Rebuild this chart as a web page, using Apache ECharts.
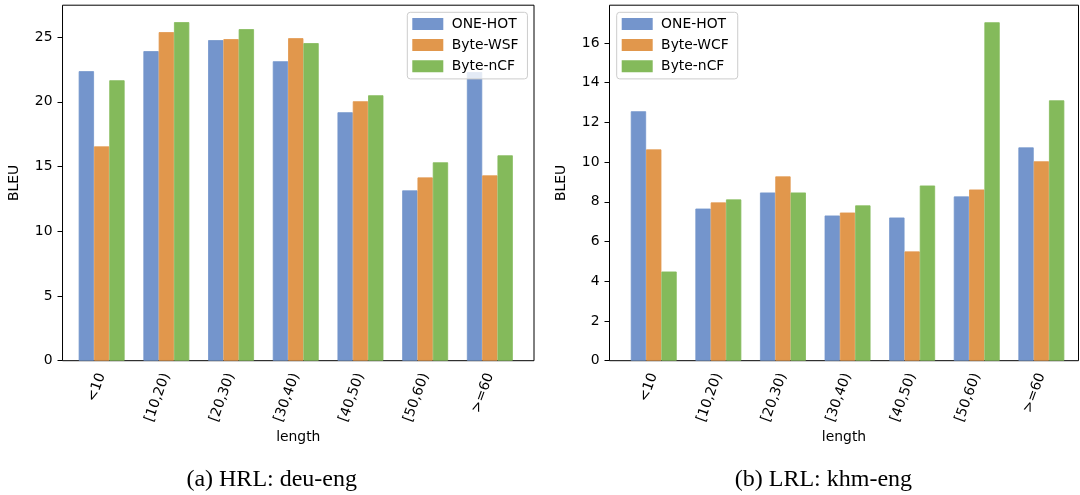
<!DOCTYPE html>
<html>
<head>
    <title>BLEU by length</title>
    <script src="https://cdn.jsdelivr.net/npm/echarts@6/dist/echarts.min.js"></script>
</head>
<body style="margin:0">
    <div id="chart" style="width:1080px;height:495px"></div>

    <script>
        const lengths = ['<10', '[10,20)', '[20,30)', '[30,40)', '[40,50)', '[50,60)', '>=60']

        // (a) HRL: deu-eng
        const hrlOneHot = [22.37, 23.92, 24.77, 23.14, 19.20, 13.16, 22.30]
        const hrlWSF    = [16.56, 25.39, 24.85, 24.92, 20.05, 14.16, 14.32]
        const hrlNCF    = [21.67, 26.16, 25.62, 24.54, 20.51, 15.33, 15.87]

        // (b) LRL: khm-eng
        const lrlOneHot = [12.56, 7.66, 8.47, 7.31, 7.21, 8.27, 10.74]
        const lrlWCF    = [10.64, 7.97, 9.28, 7.46, 5.50, 8.62, 10.04]
        const lrlNCF    = [4.49, 8.12, 8.47, 7.82, 8.82, 17.04, 13.11]

        const blue = '#7495cc', orange = '#e1974c', green = '#84ba5b'
        const font = 'DejaVu Sans'
        const fs = 13.9
        const barW = 15.3

        const plotTop = 5.2, plotHeight = 355.5
        // frame grid, tick grid, and bar grid (bars sit half a bar right of the tick, as in the original)
        const panels = [
            { frameLeft: 57.4, frameWidth: 476.6, tickLeft: 61.65, bandWidth: 452.9, max: 27.47, interval: 5 },
            { frameLeft: 609.5, frameWidth: 469, tickLeft: 613.8, bandWidth: 452.2, max: 17.9, interval: 2 }
        ]

        const grid = [], xAxis = [], yAxis = []
        panels.forEach(p => {
            grid.push({ left: p.frameLeft, top: plotTop, width: p.frameWidth, height: plotHeight, show: true, borderColor: '#000', borderWidth: 1 })
            grid.push({ left: p.tickLeft, top: plotTop, width: p.bandWidth, height: plotHeight })
            grid.push({ left: p.tickLeft + barW / 2, top: plotTop, width: p.bandWidth, height: plotHeight })
            const g = grid.length - 3
            xAxis.push({
                gridIndex: g, type: 'value', min: 0, max: 1,
                name: 'length', nameLocation: 'middle', nameGap: 63,
                nameTextStyle: { fontFamily: font, fontSize: fs, color: '#000' },
                axisLine: { show: false }, axisTick: { show: false }, axisLabel: { show: false }, splitLine: { show: false }
            })
            yAxis.push({
                gridIndex: g, type: 'value', min: 0, max: p.max, interval: p.interval,
                name: 'BLEU', nameLocation: 'middle', nameGap: 34,
                nameTextStyle: { fontFamily: font, fontSize: fs, color: '#000' },
                axisLine: { show: false },
                axisTick: { show: true, length: 5, lineStyle: { color: '#000', width: 1 } },
                axisLabel: { fontFamily: font, fontSize: fs, color: '#000', margin: 10, showMaxLabel: false },
                splitLine: { show: false }
            })
            xAxis.push({
                gridIndex: g + 1, type: 'category', data: lengths,
                axisLine: { show: false },
                axisTick: { alignWithLabel: true, length: 5, lineStyle: { color: '#000', width: 1 } },
                axisLabel: { show: false }
            })
            yAxis.push({ gridIndex: g + 1, type: 'value', min: 0, max: 1, show: false })
            xAxis.push({
                gridIndex: g + 2, type: 'category', data: lengths,
                axisLine: { show: false }, axisTick: { show: false },
                axisLabel: { rotate: 70, margin: 13, fontFamily: font, fontSize: fs, color: '#000', interval: 0 }
            })
            yAxis.push({ gridIndex: g + 2, type: 'value', min: 0, max: p.max, show: false })
        })

        const bar = (name, data, color, idx) => ({
            name, type: 'bar', data, xAxisIndex: idx, yAxisIndex: idx,
            barWidth: barW, barGap: '0%', itemStyle: { color, borderColor: color, borderWidth: 0.8 }
        })

        const legend = (left, names) => ({
            left, top: 12.3, orient: 'vertical', icon: 'rect',
            itemWidth: 29, itemHeight: 10, itemGap: -6.5,
            padding: [-2, 9, -1, 5],
            backgroundColor: 'rgba(255,255,255,0.8)', borderColor: '#cccccc', borderWidth: 1, borderRadius: 3,
            formatter: name => ' ' + name,
            textStyle: { fontFamily: font, fontSize: fs, color: '#000' },
            data: names
        })

        const chart = echarts.init(document.getElementById('chart'))
        chart.setOption({
            animation: false,
            title: [
                { text: '(a) HRL: deu-eng', left: 271.7, top: 461, textAlign: 'center', padding: 0,
                  textStyle: { fontFamily: 'Liberation Serif', fontSize: 24, fontWeight: 'normal', color: '#000' } },
                { text: '(b) LRL: khm-eng', left: 823.4, top: 461, textAlign: 'center', padding: 0,
                  textStyle: { fontFamily: 'Liberation Serif', fontSize: 24, fontWeight: 'normal', color: '#000' } }
            ],
            legend: [
                legend(407.3, ['ONE-HOT', 'Byte-WSF', 'Byte-nCF']),
                legend(616.7, ['ONE-HOT', 'Byte-WCF', 'Byte-nCF'])
            ],
            grid, xAxis, yAxis,
            series: [
                bar('ONE-HOT', hrlOneHot, blue, 2),
                bar('Byte-WSF', hrlWSF, orange, 2),
                bar('Byte-nCF', hrlNCF, green, 2),
                bar('ONE-HOT', lrlOneHot, blue, 5),
                bar('Byte-WCF', lrlWCF, orange, 5),
                bar('Byte-nCF', lrlNCF, green, 5)
            ]
        })
    </script>
</body>
</html>
